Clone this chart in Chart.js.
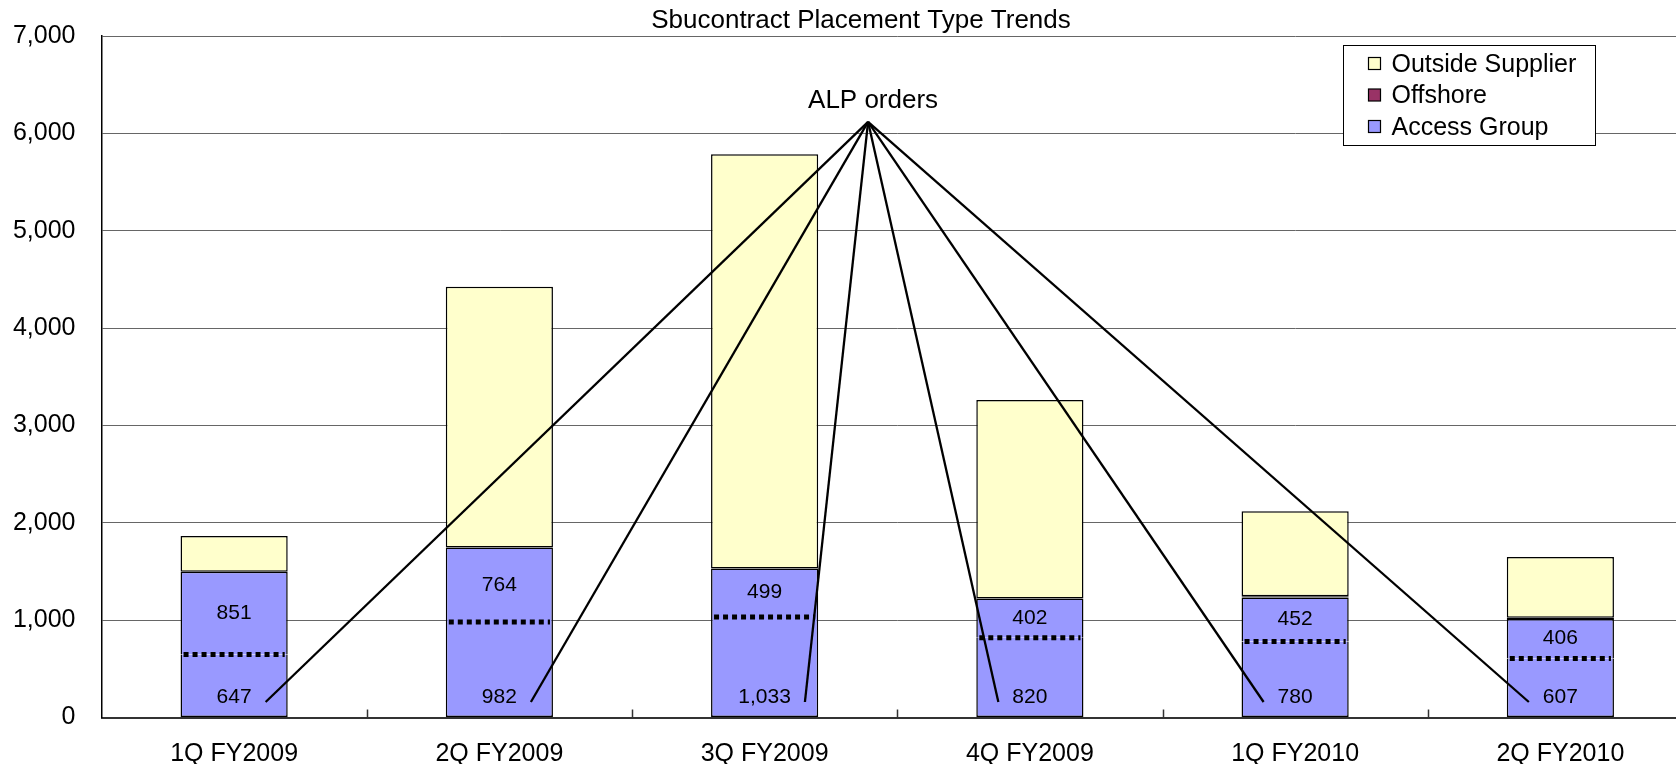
<!DOCTYPE html>
<html>
<head>
<meta charset="utf-8">
<title>Sbucontract Placement Type Trends</title>
<script src="https://cdn.jsdelivr.net/npm/chart.js@4.4.1/dist/chart.umd.min.js"></script>
<style>
  html, body { margin: 0; padding: 0; background: #ffffff; overflow: hidden; }
  #wrap { position: relative; width: 1693px; height: 764px; }
</style>
</head>
<body>
<div id="wrap"><canvas id="chart"></canvas></div>
<script>
// ---- data ----
const quarters = ['1Q FY2009', '2Q FY2009', '3Q FY2009', '4Q FY2009', '1Q FY2010', '2Q FY2010'];
const alpOrders = [647, 982, 1033, 820, 780, 607];          // Access Group, ALP orders part
const accessOther = [851, 764, 499, 402, 452, 406];        // Access Group, remaining part
const offshore = [0, 0, 0, 0, 15, 12];
const outsideSupplier = [368, 2680, 4255, 2040, 873, 625];
const yTickValues = [0, 1000, 2000, 3000, 4000, 5000, 6000, 7000];
const seriesNames = ['ALP orders', 'Access Group', 'Offshore', 'Outside Supplier'];
const chartTitle = 'Sbucontract Placement Type Trends';

const FONT = "'Liberation Sans', Arial, Helvetica, sans-serif";
const fmt = v => v.toLocaleString('en-US');

// dotted ALP dividers, value labels and the "ALP orders" leader fan
const overlayPlugin = {
  id: 'overlay',
  afterDatasetsDraw(chart, args, opts) {
    const ctx = chart.ctx;
    const xs = chart.scales.x, ys = chart.scales.y;
    const lowMeta = chart.getDatasetMeta(0);
    const upMeta = chart.getDatasetMeta(1);
    const anchors = [];
    ctx.save();

    // category boundary ticks, pointing up from the axis
    ctx.strokeStyle = '#333';
    ctx.lineWidth = 1.5;
    for (let i = 1; i < quarters.length; i++) {
      const px = Math.round(xs.getPixelForValue(i - 0.5)) + 0.5;
      ctx.beginPath();
      ctx.moveTo(px, ys.bottom);
      ctx.lineTo(px, ys.bottom - 8);
      ctx.stroke();
    }

    ctx.font = '21px ' + FONT;
    ctx.textAlign = 'center';
    ctx.textBaseline = 'middle';
    lowMeta.data.forEach((bar, i) => {
      const half = bar.width / 2;
      ctx.strokeStyle = '#000';
      ctx.lineWidth = 5;
      ctx.setLineDash([5, 4]);
      ctx.beginPath();
      ctx.moveTo(bar.x - half + 3, bar.y);
      ctx.lineTo(bar.x + half - 3, bar.y);
      ctx.stroke();
      ctx.setLineDash([]);

      ctx.fillStyle = '#000';
      const up = upMeta.data[i];
      ctx.fillText(fmt(accessOther[i]), bar.x, (up.y + up.base) / 2);
      const ly = bar.base - 20;
      ctx.fillText(fmt(alpOrders[i]), bar.x, ly);
      anchors.push({ x: bar.x, y: ly, w: ctx.measureText(fmt(alpOrders[i])).width });
    });

    const hx = xs.getPixelForValue(opts.hub.x);
    const hy = ys.getPixelForValue(opts.hub.y);
    ctx.strokeStyle = '#000';
    ctx.lineWidth = 2.3;
    anchors.forEach(a => {
      const side = a.x < hx ? 1 : -1;
      ctx.beginPath();
      ctx.moveTo(hx, hy);
      ctx.lineTo(a.x + side * (a.w / 2 + 14), a.y + 5);
      ctx.stroke();
    });

    ctx.font = '26px ' + FONT;
    ctx.textBaseline = 'alphabetic';
    ctx.fillText(opts.caption, hx + 5, hy - 14);
    ctx.restore();
  }
};

// title and boxed legend
const framePlugin = {
  id: 'frame',
  afterDraw(chart) {
    const ctx = chart.ctx;
    ctx.save();
    ctx.fillStyle = '#000';
    ctx.font = '26px ' + FONT;
    ctx.textAlign = 'center';
    ctx.textBaseline = 'alphabetic';
    ctx.fillText(chartTitle, 861, 27.5);

    ctx.font = '25px ' + FONT;
    const bx = 1343.5, by = 45.5, bw = 252, bh = 100;
    ctx.fillStyle = '#fff';
    ctx.fillRect(bx, by, bw, bh);
    ctx.strokeStyle = '#000';
    ctx.lineWidth = 1;
    ctx.strokeRect(bx, by, bw, bh);

    ctx.textAlign = 'left';
    [3, 2, 1].forEach((di, row) => {
      const ds = chart.data.datasets[di];
      const base = 71.5 + row * 31.5;
      ctx.fillStyle = ds.backgroundColor;
      ctx.fillRect(1368.5, base - 14, 12, 12);
      ctx.lineWidth = 1.2;
      ctx.strokeRect(1368.5, base - 14, 12, 12);
      ctx.fillStyle = '#000';
      ctx.fillText(ds.label, 1391.5, base);
    });
    ctx.restore();
  }
};

const edge = 1.5;
new Chart(document.getElementById('chart'), {
  type: 'bar',
  data: {
    labels: quarters,
    datasets: [
      { label: seriesNames[0], data: alpOrders, backgroundColor: '#9999FF', borderColor: '#000',
        borderWidth: { top: 0, left: edge, right: edge, bottom: edge }, borderSkipped: false },
      { label: seriesNames[1], data: accessOther, backgroundColor: '#9999FF', borderColor: '#000',
        borderWidth: { top: edge, left: edge, right: edge, bottom: 0 }, borderSkipped: false },
      { label: seriesNames[2], data: offshore, backgroundColor: '#993366', borderColor: '#000',
        borderWidth: edge, borderSkipped: false },
      { label: seriesNames[3], data: outsideSupplier, backgroundColor: '#FFFFCC', borderColor: '#000',
        borderWidth: edge, borderSkipped: false }
    ]
  },
  options: {
    responsive: true,
    maintainAspectRatio: false,
    animation: false,
    layout: { padding: { top: 36.2, right: 0, bottom: 0, left: 0 } },
    datasets: { bar: { categoryPercentage: 1.0, barPercentage: 0.404 } },
    plugins: {
      legend: { display: false },
      tooltip: { enabled: false },
      title: { display: false },
      overlay: { hub: { x: 2.39, y: 6120 }, caption: 'ALP orders' }
    },
    scales: {
      x: {
        stacked: true,
        grid: { display: false },
        border: { display: true, color: '#333', width: 2 },
        ticks: { color: '#000', font: { family: FONT, size: 25 }, padding: 14 },
        afterFit(scale) { scale.height = 46.5; }
      },
      y: {
        stacked: true,
        min: 0,
        max: 7000,
        afterBuildTicks(scale) { scale.ticks = yTickValues.map(v => ({ value: v })); },
        grid: { color: '#666', lineWidth: 1, drawTicks: true, tickLength: 26, tickColor: 'rgba(0,0,0,0)' },
        border: { display: true, color: '#000', width: 1.5 },
        ticks: { color: '#000', font: { family: FONT, size: 25 }, padding: 0, callback: v => fmt(v) },
        afterFit(scale) { scale.width = 101.5; }
      }
    }
  },
  plugins: [overlayPlugin, framePlugin]
});
</script>
</body>
</html>
